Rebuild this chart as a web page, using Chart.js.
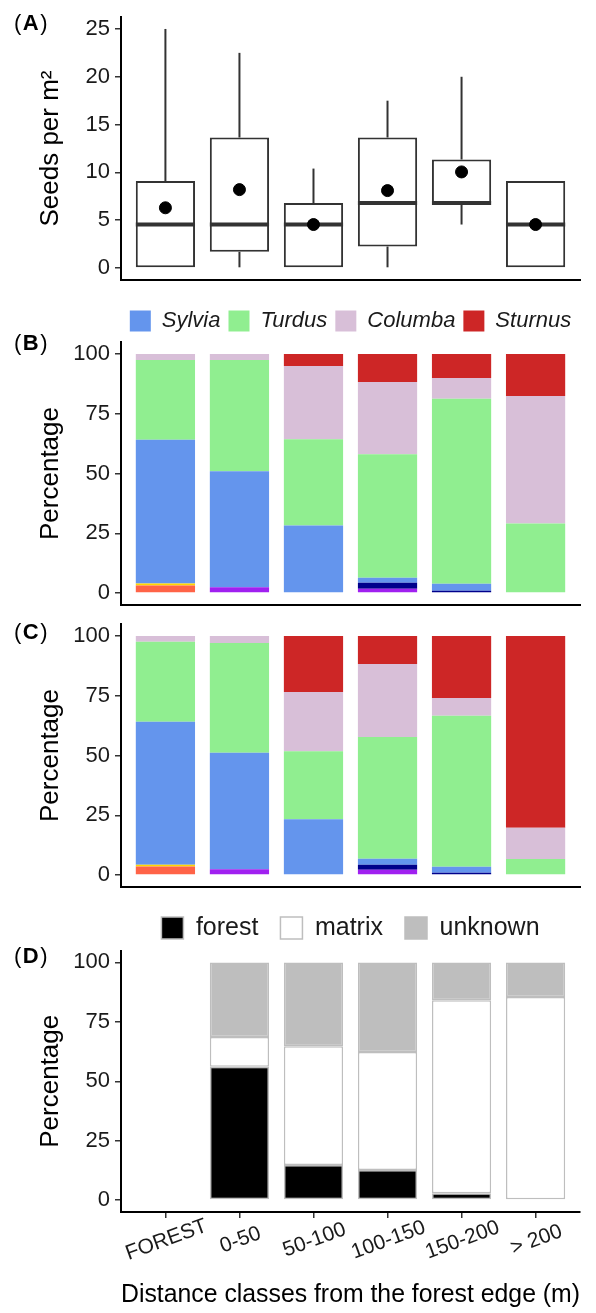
<!DOCTYPE html>
<html lang="en">
<head>
<meta charset="UTF-8">
<title>Seed rain by distance class</title>
<script src="https://cdn.jsdelivr.net/npm/chart.js"></script>
<style>
  body { margin: 0; background: #fff; }
  #wrap { position: relative; width: 596px; height: 1313px; background: #fff; font-family: "Liberation Sans", Arial, sans-serif; }
  #wrap canvas { position: absolute; left: 0; }
  .tag { position: absolute; left: 14px; font-size: 22px; line-height: 22px; color: #000; letter-spacing: 1.5px; }
</style>
</head>
<body>
<div id="wrap">
  <canvas id="chartA" width="596" height="290" style="top:0"></canvas>
  <canvas id="chartB" width="596" height="325" style="top:290px"></canvas>
  <canvas id="chartC" width="596" height="275" style="top:615px"></canvas>
  <canvas id="chartD" width="596" height="423" style="top:890px"></canvas>
  <div class="tag" style="top:12px">(<b>A</b>)</div>
  <div class="tag" style="top:332px">(<b>B</b>)</div>
  <div class="tag" style="top:621px">(<b>C</b>)</div>
  <div class="tag" style="top:945px">(<b>D</b>)</div>
</div>

<script>
// distance classes (x positions 0..5 on a linear axis, ggplot-like 0.6 expansion)
const distClasses = ['FOREST', '0-50', '50-100', '100-150', '150-200', '> 200'];
const xPos = [0, 1, 2, 3, 4, 5];

// (A) seeds per m2, box plot summaries
const seedMin    = [0,    0,     0,    0,     4.55,  0];
const seedQ1     = [0,    1.7,   0,    2.25,  6.8,   0];
const seedMedian = [4.55, 4.55,  4.55, 6.8,   6.8,   4.55];
const seedQ3     = [9.1,  13.65, 6.8,  13.65, 11.35, 9.1];
const seedMax    = [25,   22.5,  10.4, 17.5,  20,    9.1];
const seedMean   = [6.3,  8.2,   4.55, 8.1,   10.05, 4.55];
const seedTicks  = [0, 5, 10, 15, 20, 25];

// (B) percentage by disperser
const bTomato  = [3.2, 0, 0, 0, 0, 0];
const bGold    = [0.8, 0, 0, 0, 0, 0];
const bPurple  = [0, 2.4, 0, 1.8, 0, 0];
const bNavy    = [0, 0, 0, 2.5, 1.0, 0];
const bSylvia  = [60.1, 48.5, 28.3, 2.1, 2.9, 0];
const bTurdus  = [33.4, 46.6, 36.0, 51.6, 77.4, 29.1];
const bColumba = [2.5, 2.5, 30.7, 30.3, 8.6, 53.3];
const bSturnus = [0, 0, 5.0, 11.7, 10.1, 17.6];

// (C) percentage by disperser
const cTomato  = [3.6, 0, 0, 0, 0, 0];
const cGold    = [0.7, 0, 0, 0, 0, 0];
const cPurple  = [0, 2.4, 0, 2.2, 0, 0];
const cNavy    = [0, 0, 0, 2.1, 1.0, 0];
const cSylvia  = [59.8, 48.7, 23.3, 2.5, 2.5, 0];
const cTurdus  = [33.5, 46.0, 28.5, 50.9, 63.1, 6.7];
const cColumba = [2.4, 2.9, 24.8, 30.6, 7.5, 13.1];
const cSturnus = [0, 0, 23.4, 11.7, 25.9, 80.2];

// (D) seed origin
const dForest  = [null, 56.1, 14.8, 12.7, 2.9, 0];
const dMatrix  = [null, 12.5, 49.9, 49.6, 81.2, 85.4];
const dUnknown = [null, 31.4, 35.3, 37.7, 15.9, 14.6];

const pctTicks = [0, 25, 50, 75, 100];
const speciesNames = ['Sylvia', 'Turdus', 'Columba', 'Sturnus'];
const speciesColors = ['#6495ED', '#90EE90', '#D8BFD8', '#CD2626'];
const minorColors = ['#FF6347', '#FFD700', '#A020F0', '#00008B'];

Chart.defaults.font.family = '"Liberation Sans", Arial, Helvetica, sans-serif';
Chart.defaults.color = '#1a1a1a';
Chart.defaults.animation = false;

const tickFont = { size: 22 };
const titleFont = { size: 26 };

function yAxis(title, ticks, min, max, stacked) {
    return {
        min: min, max: max, stacked: stacked,
        afterBuildTicks: s => { s.ticks = ticks.map(v => ({ value: v })); },
        afterFit: s => { s.width = 121; s.paddingTop = 0; s.paddingBottom = 0; },
        grid: { display: true, drawOnChartArea: false, drawTicks: true, tickLength: 6, color: '#333', lineWidth: 1.5 },
        border: { display: true, color: '#000', width: 2 },
        ticks: { font: tickFont, padding: 5, color: '#1a1a1a' },
        title: { display: true, text: title, font: titleFont, color: '#000', padding: { top: 35, bottom: 0 } }
    };
}

function xAxis(extra) {
    return Object.assign({
        type: 'linear', min: -0.6, max: 5.6, offset: false, stacked: true,
        afterBuildTicks: s => { s.ticks = xPos.map(v => ({ value: v })); },
        afterFit: s => { s.height = 0; s.paddingLeft = 0; s.paddingRight = 0; },
        ticks: { display: false },
        grid: { display: false, offset: false },
        border: { display: true, color: '#000', width: 2 }
    }, extra || {});
}

function baseOptions(padding, scales, legend) {
    return {
        responsive: false,
        layout: { padding: padding, autoPadding: false },
        plugins: { legend: legend || { display: false }, tooltip: { enabled: false } },
        scales: scales
    };
}

// ---------- (A) boxplot ----------
new Chart(document.getElementById('chartA'), {
    type: 'bar',
    data: {
        labels: xPos,
        datasets: [
            { label: 'upper', data: xPos.map(i => [seedQ3[i], seedMax[i]]), backgroundColor: '#333',
              borderWidth: 0, grouped: false, maxBarThickness: 2, inflateAmount: 0, order: 4 },
            { label: 'lower', data: xPos.map(i => [seedMin[i], seedQ1[i]]), backgroundColor: '#333',
              borderWidth: 0, grouped: false, maxBarThickness: 2, inflateAmount: 0, order: 4 },
            { label: 'box', data: xPos.map(i => [seedQ1[i], seedQ3[i]]), backgroundColor: '#fff',
              borderColor: '#333', borderWidth: 2, borderSkipped: false, grouped: false,
              categoryPercentage: 1, barPercentage: 0.8, order: 3 },
            { type: 'line', label: 'median', data: seedMedian, showLine: false, pointStyle: 'line',
              pointRadius: 29.6, borderColor: '#333', pointBorderWidth: 4, order: 2 },
            { type: 'line', label: 'mean', data: seedMean, showLine: false, pointStyle: 'circle',
              pointRadius: 6, backgroundColor: '#000', borderColor: '#000', order: 1 }
        ]
    },
    options: baseOptions({ top: 17, right: 16, bottom: 10, left: 0 }, {
        x: xAxis({ stacked: false }),
        y: yAxis('Seeds per m²', seedTicks, -1.25, 26.25, false)
    })
});

// ---------- (B) and (C) stacked species ----------
function speciesSets(tomato, gold, purple, navy, sylvia, turdus, columba, sturnus) {
    const minor = [tomato, gold, purple, navy].map((d, k) => ({
        label: 'minor' + k, data: d, backgroundColor: minorColors[k], borderWidth: 0
    }));
    const main = [sylvia, turdus, columba, sturnus].map((d, k) => ({
        label: speciesNames[k], data: d, backgroundColor: speciesColors[k], borderWidth: 0
    }));
    return minor.concat(main).map(ds => Object.assign(ds, { categoryPercentage: 1, barPercentage: 0.8 }));
}

new Chart(document.getElementById('chartB'), {
    type: 'bar',
    data: { labels: xPos, datasets: speciesSets(bTomato, bGold, bPurple, bNavy, bSylvia, bTurdus, bColumba, bSturnus) },
    options: baseOptions({ top: 12, right: 16, bottom: 10, left: 0 }, {
        x: xAxis(),
        y: yAxis('Percentage', pctTicks, -5, 105, true)
    }, {
        display: true, position: 'top', fullSize: false,
        labels: {
            font: { size: 22, style: 'italic' }, color: '#1a1a1a',
            boxWidth: 21, boxHeight: 21, padding: 8,
            filter: item => speciesNames.includes(item.text)
        }
    })
});

new Chart(document.getElementById('chartC'), {
    type: 'bar',
    data: { labels: xPos, datasets: speciesSets(cTomato, cGold, cPurple, cNavy, cSylvia, cTurdus, cColumba, cSturnus) },
    options: baseOptions({ top: 9, right: 16, bottom: 3, left: 0 }, {
        x: xAxis(),
        y: yAxis('Percentage', pctTicks, -5, 105, true)
    })
});

// ---------- (D) origin ----------
const rotatedLabels = {
    id: 'rotatedLabels',
    afterDraw(chart) {
        const xs = chart.scales.x;
        const ctx = chart.ctx;
        ctx.save();
        ctx.font = '21px "Liberation Sans", Arial, sans-serif';
        ctx.fillStyle = '#1a1a1a';
        ctx.textAlign = 'center';
        ctx.textBaseline = 'middle';
        distClasses.forEach((lab, i) => {
            ctx.save();
            ctx.translate(xs.getPixelForValue(xPos[i]) + 1, xs.top + 28);
            ctx.rotate(-20 * Math.PI / 180);
            ctx.fillText(lab, 0, 0);
            ctx.restore();
        });
        ctx.restore();
    }
};

const originSet = (label, data, color) => ({
    label: label, data: data, backgroundColor: color, borderColor: '#BEBEBE', borderWidth: 1.5,
    borderSkipped: false, categoryPercentage: 1, barPercentage: 0.8
});

new Chart(document.getElementById('chartD'), {
    type: 'bar',
    data: {
        labels: xPos,
        datasets: [
            originSet('forest', dForest, '#000000'),
            originSet('matrix', dMatrix, '#FFFFFF'),
            originSet('unknown', dUnknown, '#BEBEBE')
        ]
    },
    options: baseOptions({ top: 3.5, right: 16, bottom: 0, left: 0 }, {
        x: xAxis({
            afterFit: s => { s.height = 101; s.paddingLeft = 0; s.paddingRight = 0; },
            grid: { display: true, drawOnChartArea: false, drawTicks: true, tickLength: 6, color: '#333', lineWidth: 1.5, offset: false },
            title: { display: true, text: 'Distance classes from the forest edge (m)', font: titleFont, color: '#000', padding: { top: 0, bottom: 2.4 } }
        }),
        y: yAxis('Percentage', pctTicks, -5, 105, true)
    }, {
        display: true, position: 'top', fullSize: false,
        labels: { font: { size: 25 }, color: '#1a1a1a', boxWidth: 22, boxHeight: 22, padding: 22 }
    }),
    plugins: [rotatedLabels]
});
</script>
</body>
</html>
